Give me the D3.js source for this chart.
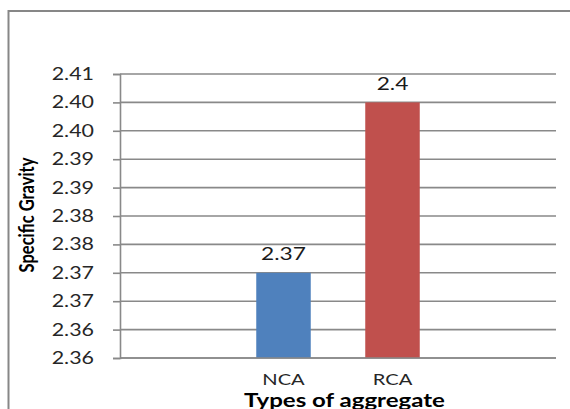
<!DOCTYPE html>
<html>
<head>
<meta charset="utf-8">
<script src="https://cdn.jsdelivr.net/npm/d3@7/dist/d3.min.js"></script>
<style>
  html, body { margin: 0; padding: 0; background: #fff; overflow: hidden; }
  text { font-family: Lato, "Open Sans", sans-serif; }
</style>
</head>
<body>
<script>
// Specific gravity of natural vs recycled coarse aggregate
const categories = ["NCA", "RCA"];
const values = [2.37, 2.4];
const valueLabels = ["2.37", "2.4"];
const barColors = ["#4F81BD", "#C0504D"];
const yTicks = [2.355, 2.36, 2.365, 2.37, 2.375, 2.38, 2.385, 2.39, 2.395, 2.40, 2.405];
const yTickLabels = ["2.36", "2.36", "2.37", "2.37", "2.38", "2.38", "2.39", "2.39", "2.40", "2.40", "2.41"];
const yTitle = "Specific Gravity";
const xTitle = "Types of aggregate";

const W = 570, H = 409;
const plot = { left: 120, right: 556, top: 74, bottom: 358 };
const SX = 1.3;          // horizontal stretch applied to glyphs
const gridColor = "#898989";

const svg = d3.select("body").append("svg")
  .attr("width", W).attr("height", H);

// outer chart frame
svg.append("rect")
  .attr("x", 8.5).attr("y", 11)
  .attr("width", W).attr("height", H)
  .attr("fill", "none").attr("stroke", "#878787").attr("stroke-width", 2);

const y = d3.scaleLinear()
  .domain([yTicks[0], yTicks[yTicks.length - 1]])
  .range([plot.bottom, plot.top]);

const x = d3.scaleBand()
  .domain(categories)
  .range([plot.left, plot.right])
  .paddingInner(0.5)
  .paddingOuter(1.25);

// horizontal gridlines
svg.append("g").selectAll("line")
  .data(yTicks)
  .join("line")
  .attr("x1", plot.left).attr("x2", plot.right)
  .attr("y1", d => y(d)).attr("y2", d => y(d))
  .attr("stroke", gridColor).attr("stroke-width", 1.6);

// left axis with tick marks
const yAxis = d3.axisLeft(y)
  .tickValues(yTicks)
  .tickFormat((d, i) => yTickLabels[i])
  .tickSize(7)
  .tickPadding(0);

const gy = svg.append("g")
  .attr("transform", `translate(${plot.left},0)`)
  .call(yAxis);
gy.select(".domain").attr("stroke", gridColor).attr("stroke-width", 1.6);
gy.selectAll(".tick line").attr("stroke", gridColor).attr("stroke-width", 1.6);
gy.selectAll(".tick text")
  .attr("x", null).attr("dy", null)
  .attr("transform", `translate(-26,5.5) scale(${SX},1)`)
  .attr("text-anchor", "end")
  .attr("font-size", 16.5)
  .attr("fill", "#262626");

// bars
svg.append("g").selectAll("rect")
  .data(values)
  .join("rect")
  .attr("x", (d, i) => x(categories[i]))
  .attr("width", x.bandwidth())
  .attr("y", d => y(d))
  .attr("height", d => plot.bottom - y(d))
  .attr("fill", (d, i) => barColors[i]);

// baseline drawn over the bars
svg.append("line")
  .attr("x1", plot.left).attr("x2", plot.right)
  .attr("y1", plot.bottom).attr("y2", plot.bottom)
  .attr("stroke", gridColor).attr("stroke-width", 1.6);

// value labels
svg.append("g").selectAll("text")
  .data(values)
  .join("text")
  .attr("transform", (d, i) =>
    `translate(${x(categories[i]) + x.bandwidth() / 2},${y(d) - 12.5}) scale(${SX},1)`)
  .attr("text-anchor", "middle")
  .attr("font-size", 17.5)
  .attr("fill", "#1a1a1a")
  .text((d, i) => valueLabels[i]);

// category labels
svg.append("g").selectAll("text")
  .data(categories)
  .join("text")
  .attr("transform", d => `translate(${x(d) + x.bandwidth() / 2},385) scale(${SX},1)`)
  .attr("text-anchor", "middle")
  .attr("font-size", 15.5)
  .attr("fill", "#262626")
  .text(d => d);

// axis titles
svg.append("text")
  .attr("transform", `translate(344.5,406.5) scale(${SX},1)`)
  .attr("text-anchor", "middle")
  .attr("font-size", 18.5)
  .attr("font-weight", "bold")
  .attr("fill", "#000")
  .text(xTitle);

svg.append("text")
  .attr("transform", `translate(34,${(plot.top + plot.bottom) / 2 - 1}) scale(${SX},1) rotate(-90)`)
  .attr("text-anchor", "middle")
  .attr("font-size", 16.5)
  .attr("font-weight", "bold")
  .attr("fill", "#000")
  .text(yTitle);
</script>
</body>
</html>
